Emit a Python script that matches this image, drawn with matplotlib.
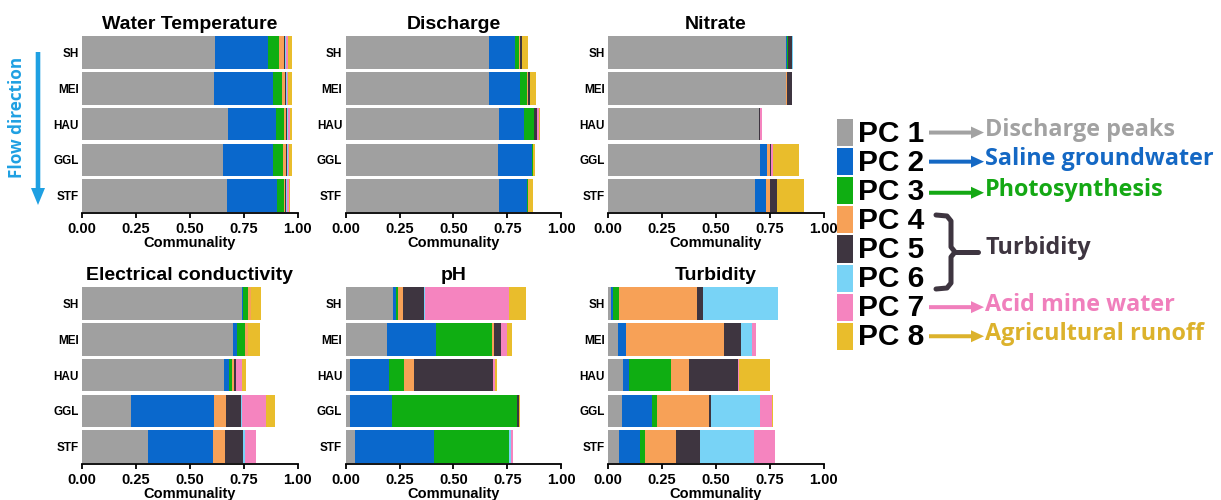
import numpy as np
import matplotlib
matplotlib.use("Agg")
import matplotlib.pyplot as plt
from matplotlib.patches import Rectangle, FancyArrow

# Sampling sites, upstream to downstream
sites = ["SH", "MEI", "HAU", "GGL", "STF"]

# Principal components and their interpretation
pc_labels = ["PC 1", "PC 2", "PC 3", "PC 4", "PC 5", "PC 6", "PC 7", "PC 8"]
pc_colors = ["#a0a0a0", "#0a68cc", "#0fae12", "#f7a157", "#3e3540",
             "#78d3f6", "#f584bf", "#e9bd2c"]

# Communality of each PC per site (rows: sites, columns: PC1..PC8)
water_temperature = [
    [0.616, 0.245, 0.054, 0.022, 0.005, 0.003, 0.008, 0.020],
    [0.613, 0.274, 0.042, 0.010, 0.007, 0.003, 0.007, 0.018],
    [0.675, 0.223, 0.040, 0.008, 0.006, 0.003, 0.009, 0.011],
    [0.652, 0.235, 0.045, 0.012, 0.006, 0.003, 0.008, 0.014],
    [0.670, 0.232, 0.033, 0.008, 0.005, 0.002, 0.008, 0.008],
]
discharge = [
    [0.666, 0.122, 0.018, 0.003, 0.010, 0.000, 0.000, 0.026],
    [0.666, 0.145, 0.031, 0.004, 0.008, 0.000, 0.003, 0.027],
    [0.714, 0.114, 0.044, 0.003, 0.012, 0.002, 0.007, 0.006],
    [0.709, 0.158, 0.002, 0.000, 0.000, 0.000, 0.000, 0.010],
    [0.714, 0.127, 0.006, 0.002, 0.000, 0.000, 0.000, 0.022],
]
nitrate = [
    [0.825, 0.003, 0.004, 0.000, 0.021, 0.003, 0.000, 0.000],
    [0.825, 0.000, 0.000, 0.003, 0.023, 0.000, 0.000, 0.000],
    [0.698, 0.003, 0.000, 0.000, 0.004, 0.000, 0.009, 0.000],
    [0.704, 0.034, 0.000, 0.013, 0.004, 0.000, 0.008, 0.124],
    [0.681, 0.051, 0.000, 0.019, 0.034, 0.000, 0.000, 0.122],
]
electrical_conductivity = [
    [0.740, 0.008, 0.023, 0.011, 0.000, 0.000, 0.000, 0.046],
    [0.698, 0.022, 0.035, 0.016, 0.000, 0.000, 0.000, 0.053],
    [0.659, 0.022, 0.012, 0.011, 0.010, 0.000, 0.027, 0.018],
    [0.224, 0.387, 0.000, 0.056, 0.070, 0.005, 0.111, 0.042],
    [0.303, 0.302, 0.000, 0.059, 0.084, 0.009, 0.050, 0.000],
]
ph = [
    [0.221, 0.011, 0.013, 0.020, 0.099, 0.003, 0.392, 0.080],
    [0.190, 0.228, 0.263, 0.008, 0.031, 0.000, 0.031, 0.021],
    [0.020, 0.180, 0.071, 0.046, 0.369, 0.000, 0.008, 0.007],
    [0.020, 0.195, 0.582, 0.000, 0.006, 0.000, 0.000, 0.005],
    [0.043, 0.369, 0.348, 0.000, 0.000, 0.008, 0.008, 0.000],
]
turbidity = [
    [0.012, 0.008, 0.030, 0.360, 0.028, 0.351, 0.000, 0.000],
    [0.046, 0.036, 0.000, 0.454, 0.080, 0.051, 0.019, 0.000],
    [0.067, 0.029, 0.195, 0.085, 0.225, 0.000, 0.007, 0.143],
    [0.062, 0.139, 0.023, 0.243, 0.010, 0.227, 0.055, 0.004],
    [0.051, 0.096, 0.023, 0.143, 0.113, 0.250, 0.098, 0.000],
]

panel_titles = ["Water Temperature", "Discharge", "Nitrate",
                "Electrical conductivity", "pH", "Turbidity"]
panel_data = [water_temperature, discharge, nitrate,
              electrical_conductivity, ph, turbidity]
x_ticks = [0.0, 0.25, 0.5, 0.75, 1.0]
x_ticklabels = ["0.00", "0.25", "0.50", "0.75", "1.00"]

# Legend interpretation texts
pc_meanings = ["Discharge peaks", "Saline groundwater", "Photosynthesis",
               "Turbidity", "Acid mine water", "Agricultural runoff"]
meaning_colors = ["#a2a2a2", "#1468c4", "#14a814", "#3e3540",
                  "#f07fbc", "#dcb22c"]

AX_FONT = "Liberation Sans"
NOTE_FONT = "Open Sans"

W, H = 1221, 500
fig = plt.figure(figsize=(W / 100, H / 100), dpi=100)

lefts = [82.3, 345.7, 608.3]
bottoms = [213.3, 464.3]
ax_w, ax_h = 215.4, 178.5

y = np.arange(len(sites))
for i, (title, data) in enumerate(zip(panel_titles, panel_data)):
    row, col = divmod(i, 3)
    ax = fig.add_axes([lefts[col] / W, 1 - bottoms[row] / H, ax_w / W, ax_h / H])
    vals = np.array(data)
    left = np.zeros(len(sites))
    for k in range(vals.shape[1]):
        ax.barh(y, vals[:, k], left=left, height=0.91, color=pc_colors[k],
                linewidth=0)
        left += vals[:, k]
    ax.set_xlim(0, 1.0)
    ax.set_ylim(len(sites) - 0.5, -0.5)
    ax.set_yticks(y)
    ax.set_yticklabels(sites, fontsize=8.5, fontweight="bold", family=AX_FONT)
    ax.set_xticks(x_ticks)
    ax.set_xticklabels(x_ticklabels, fontsize=10.5, fontweight="bold",
                       family=AX_FONT)
    ax.tick_params(axis="y", length=0, pad=2.5)
    ax.tick_params(axis="x", length=3.5, width=1.3, pad=2.5, colors="black")
    for s in ["top", "right", "left"]:
        ax.spines[s].set_visible(False)
    ax.spines["bottom"].set_linewidth(1.3)
    ax.set_xlabel("Communality", fontsize=10.5, fontweight="bold",
                  family=AX_FONT, labelpad=0.5)
    ax.set_title(title, fontsize=14, fontweight="bold", family=AX_FONT, pad=4)

# Overlay in pixel coordinates for annotations and the legend
ov = fig.add_axes([0, 0, 1, 1], zorder=5)
ov.set_xlim(0, W)
ov.set_ylim(H, 0)
ov.axis("off")
ov.patch.set_alpha(0)

# Flow direction arrow
flow_color = "#1fa0e2"
ov.add_patch(FancyArrow(38, 52, 0, 153, width=4.6, head_width=14,
                        head_length=17, length_includes_head=True,
                        color=flow_color, linewidth=0))
ov.text(17, 117, "Flow direction", rotation=90, ha="center", va="center",
        fontsize=12.3, fontweight="bold", color=flow_color, family=NOTE_FONT)

# Legend swatches and PC labels
sq_top, pitch = 119, 29.1
for k, (lab, c) in enumerate(zip(pc_labels, pc_colors)):
    y0 = sq_top + k * pitch
    ov.add_patch(Rectangle((836.5, y0), 16, pitch - 2, color=c, linewidth=0))
    ov.text(858, y0 + (pitch - 2) / 2 + 1, lab, ha="left", va="center",
            fontsize=21.5, fontweight="bold", family=AX_FONT, color="black")

# Arrows from single PCs to their interpretation
single = [(0, 0), (1, 1), (2, 2), (6, 4), (7, 5)]
for k, m in single:
    yc = sq_top + k * pitch + (pitch - 2) / 2 + (2 if k == 2 else 0)
    ov.add_patch(FancyArrow(929, yc, 55, 0, width=4, head_width=12,
                            head_length=13, length_includes_head=True,
                            color=meaning_colors[m], linewidth=0))
    ov.text(985, yc - 2.5, pc_meanings[m], ha="left", va="center",
            fontsize=16.8, fontweight="bold", family=NOTE_FONT,
            color=meaning_colors[m])

# Bracket grouping PC 4 - PC 6
br_c = meaning_colors[3]
bx = [936, 947, 951, 951, 955, 951, 951, 947, 936]
by = [215, 216, 221, 247, 252, 257, 283, 288, 289]
ov.plot(bx, by, color=br_c, lw=3.6, solid_capstyle="round",
        solid_joinstyle="round")
ov.plot([955, 978], [252, 252], color=br_c, lw=3.6, solid_capstyle="round")
ov.text(985, 248, pc_meanings[3], ha="left", va="center", fontsize=16.8,
        fontweight="bold", family=NOTE_FONT, color=br_c)

fig.savefig("out.png", dpi=100)
